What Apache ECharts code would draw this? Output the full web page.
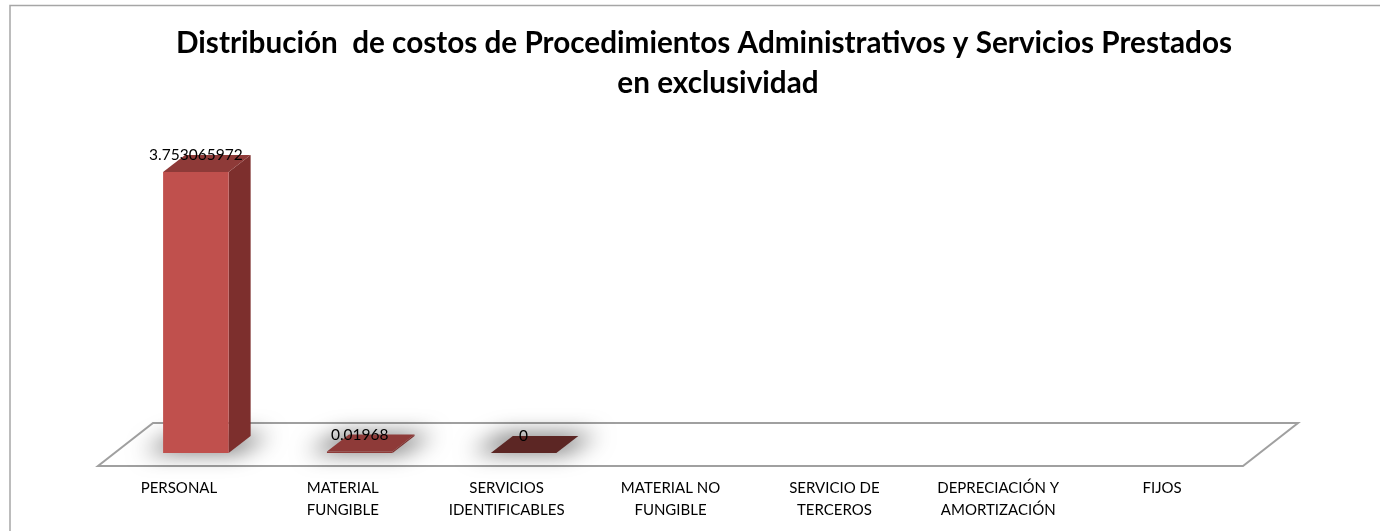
<!DOCTYPE html>
<html>
<head>
<meta charset="utf-8">
<title>Distribución de costos</title>
<script src="https://cdn.jsdelivr.net/npm/echarts@6/dist/echarts.min.js"></script>
<style>
  html, body { margin: 0; padding: 0; background: #fff; }
  #main { width: 1380px; height: 531px; }
</style>
</head>
<body>
<div id="main"></div>
<script>
const categories = [
  'PERSONAL',
  'MATERIAL\nFUNGIBLE',
  'SERVICIOS\nIDENTIFICABLES',
  'MATERIAL NO\nFUNGIBLE',
  'SERVICIO DE\nTERCEROS',
  'DEPRECIACIÓN Y\nAMORTIZACIÓN',
  'FIJOS'
];
const values = [3.753065972, 0.01968, 0, null, null, null, null];

// colores por barra: frente, lado, tapa
const frontColors = ['#c0504d', '#8e3a38', '#5c2624'];
const sideColors = ['#7d2f2d', '#7d2f2d', '#5c2624'];
const topColors = ['#8e3a38', '#8e3a38', '#5c2624'];

// profundidad de la vista 3D
const depthX = 22;
const depthY = 17;
// la sombra se dibuja fuera de pantalla, solo se ve el difuminado
const shadowShift = 3000;

const myChart = echarts.init(document.getElementById('main'));

function renderFloor(params, api) {
  const cs = params.coordSys;
  const base = cs.y + cs.height;
  const pts = [
    [cs.x + 1, base + 13],
    [cs.x + cs.width - 1, base + 13],
    [cs.x + cs.width + 54, base - 30],
    [cs.x + 56, base - 30]
  ];
  return {
    type: 'polygon',
    shape: { points: pts },
    style: { fill: '#fff', stroke: '#a0a0a0', lineWidth: 2 },
    silent: true
  };
}

function renderBar(params, api) {
  const i = api.value(0);
  const v = api.value(1);
  if (isNaN(v)) return null;
  const w = api.size([1, 0])[0] * 0.4;
  const top = api.coord([i, v]);
  const bottom = api.coord([i, 0]);
  const x0 = top[0] + depthX * 0.77 - w / 2;
  const x1 = x0 + w;
  const yT = top[1];
  const yB = bottom[1];
  return {
    type: 'group',
    children: [
      {
        type: 'polygon',
        shape: {
          points: [
            [x0 - 20 - shadowShift, yB - 1],
            [x1 + 8 - shadowShift, yB - 1],
            [x1 + depthX + 20 - shadowShift, yB - depthY - 1],
            [x0 + depthX - 8 - shadowShift, yB - depthY - 1]
          ]
        },
        style: {
          fill: '#000',
          shadowColor: 'rgba(0,0,0,0.62)',
          shadowBlur: 22,
          shadowOffsetX: shadowShift
        }
      },
      {
        type: 'polygon',
        shape: { points: [[x1, yT], [x1 + depthX, yT - depthY], [x1 + depthX, yB - depthY], [x1, yB]] },
        style: { fill: sideColors[i] }
      },
      {
        type: 'polygon',
        shape: { points: [[x0, yT], [x1, yT], [x1 + depthX, yT - depthY], [x0 + depthX, yT - depthY]] },
        style: { fill: topColors[i] }
      },
      {
        type: 'rect',
        shape: { x: x0, y: yT, width: w, height: yB - yT },
        style: { fill: frontColors[i] }
      },
      {
        type: 'text',
        style: {
          x: (x0 + x1) / 2,
          y: yT - 17,
          text: String(v),
          fill: '#000',
          font: '15.5px Lato',
          align: 'center',
          verticalAlign: 'middle'
        }
      }
    ]
  };
}

const option = {
  animation: false,
  backgroundColor: '#fff',
  title: [
    {
      text: 'Distribución  de costos de Procedimientos Administrativos y Servicios Prestados',
      left: 699, top: 23, textAlign: 'center',
      textStyle: { fontFamily: 'Lato', fontSize: 29.7, fontWeight: 'bold', color: '#000' }
    },
    {
      text: 'en exclusividad',
      left: 713, top: 63, textAlign: 'center',
      textStyle: { fontFamily: 'Lato', fontSize: 29.7, fontWeight: 'bold', color: '#000' }
    }
  ],
  graphic: [{
    type: 'polyline',
    shape: { points: [[10, 531], [10, 5.5], [1380, 5.5]] },
    style: { fill: null, stroke: '#a6a6a6', lineWidth: 1.5 },
    silent: true
  }],
  grid: { left: 97, right: 136, top: 153.5, bottom: 78, containLabel: false },
  xAxis: {
    type: 'category',
    data: categories,
    axisLine: { show: false },
    axisTick: { show: false },
    axisLabel: { color: '#000', fontFamily: 'Lato', fontSize: 15, lineHeight: 22, margin: 24, interval: 0 }
  },
  yAxis: { type: 'value', min: 0, max: 4, show: false },
  series: [
    {
      type: 'custom',
      coordinateSystem: 'cartesian2d',
      renderItem: renderFloor,
      data: [[0, 0]],
      silent: true,
      z: 1
    },
    {
      type: 'custom',
      coordinateSystem: 'cartesian2d',
      renderItem: renderBar,
      encode: { x: 0, y: 1 },
      data: values.map((v, i) => [i, v]),
      z: 2
    }
  ]
};

myChart.setOption(option);
</script>
</body>
</html>
